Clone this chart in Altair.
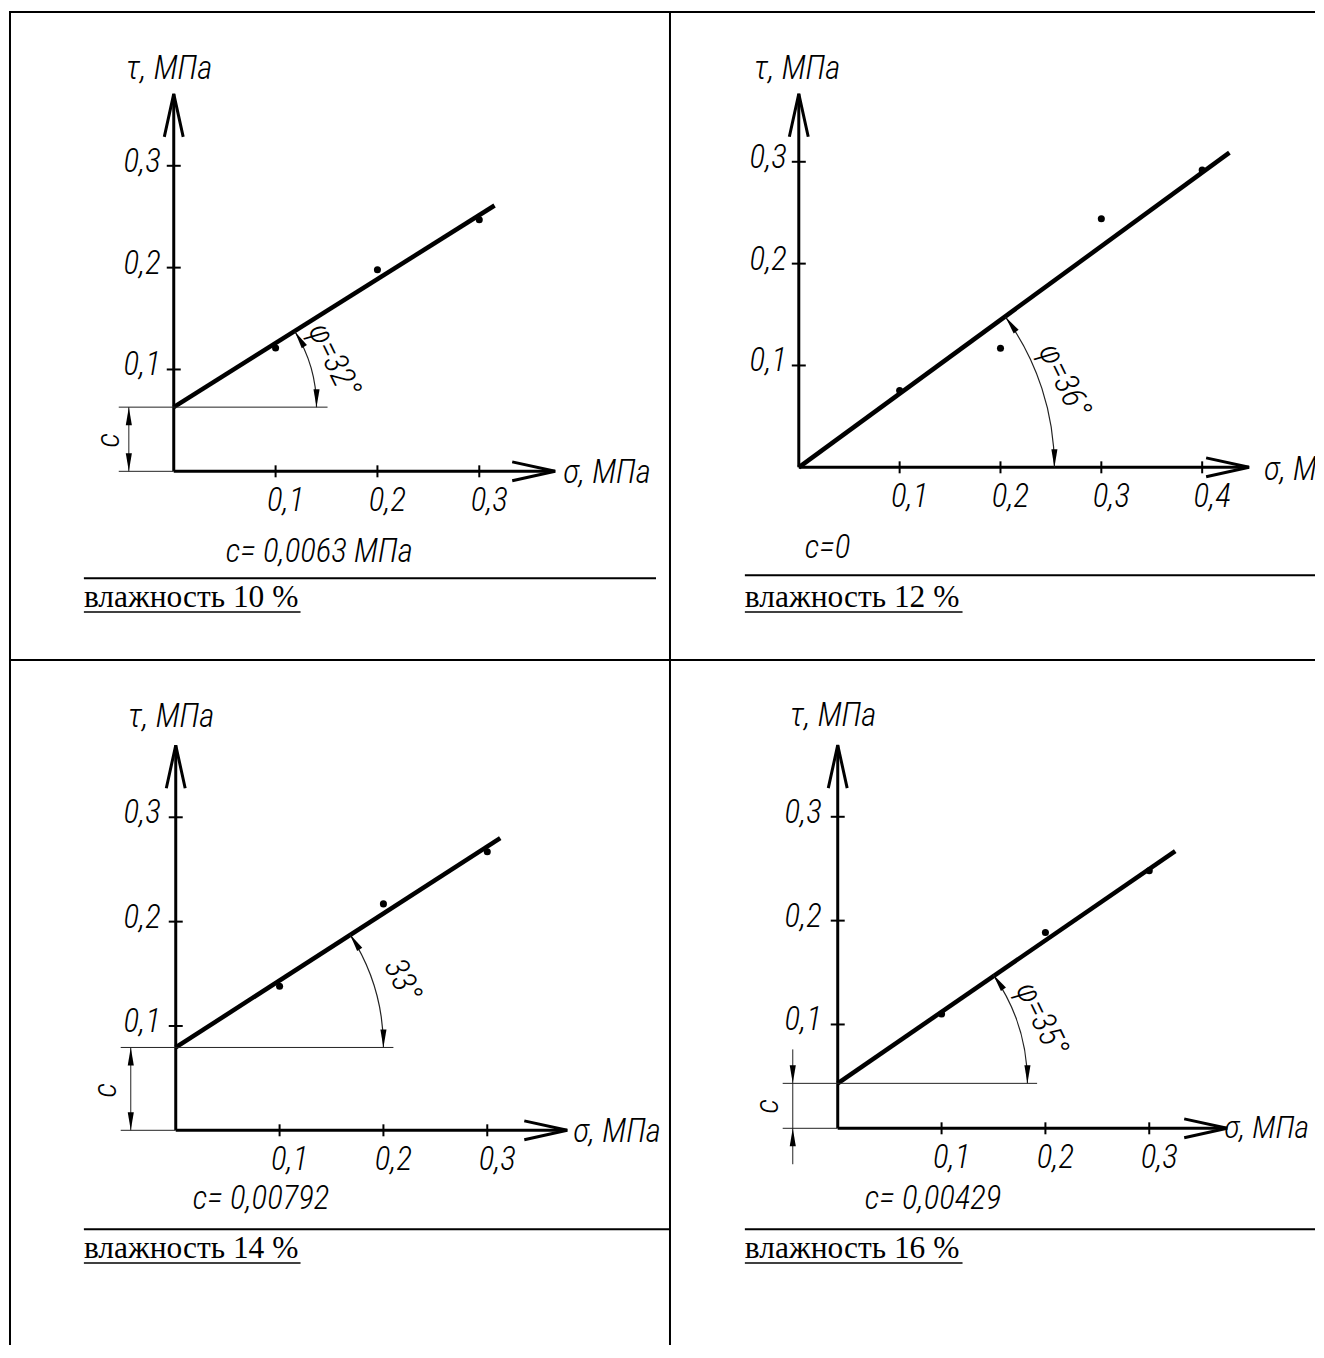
import math
import altair as alt
import pandas as pd

# ---------------- values ----------------
captions = ["влажность 10 %", "влажность 12 %", "влажность 14 %", "влажность 16 %"]
c_texts = ["c= 0,0063 МПа", "c=0", "c= 0,00792", "c= 0,00429"]
phi_texts = ["φ=32°", "φ=36°", "33°", "φ=35°"]
phi_deg = [32, 36, 33, 35]
y_title = "τ, МПа"
x_title = "σ, МПа"
c_letter = "c"

sigma_points = [[0.1, 0.2, 0.3], [0.1, 0.2, 0.3, 0.4], [0.1, 0.2, 0.3], [0.1, 0.2, 0.3]]
tau_points = [[0.121, 0.198, 0.247], [0.0755, 0.117, 0.244, 0.292],
              [0.138, 0.217, 0.267], [0.110, 0.1885, 0.248]]

# fitted straight line: from sigma = 0 (tau = c) to its end point
line_tau0 = [0.063, 0.0, 0.0794, 0.0433]
line_sigma1 = [0.315, 0.427, 0.3125, 0.325]
line_tau1 = [0.261, 0.309, 0.280, 0.267]

x_tick_values = [[0.1, 0.2, 0.3], [0.1, 0.2, 0.3, 0.4], [0.1, 0.2, 0.3], [0.1, 0.2, 0.3]]
x_tick_labels = [["0,1", "0,2", "0,3"], ["0,1", "0,2", "0,3", "0,4"],
                 ["0,1", "0,2", "0,3"], ["0,1", "0,2", "0,3"]]
y_tick_values = [0.1, 0.2, 0.3]
y_tick_labels = ["0,1", "0,2", "0,3"]

x_axis_end = [0.3745, 0.4465, 0.377, 0.375]
y_axis_end = [0.3706, 0.3667, 0.369, 0.369]

phi_label_sigma = [0.157, 0.263, 0.218, 0.196]
phi_label_tau = [0.109, 0.085, 0.1435, 0.105]
c_text_sigma = [0.051, 0.006, 0.0163, 0.026]
c_text_tau = [-0.0794, -0.0794, -0.066, -0.0683]

ext_start = [-0.054, None, -0.053, -0.053]
ext_end = [0.151, None, 0.2096, 0.192]
dim_sigma = [-0.0441, None, -0.0433, -0.0433]
dim_lo = [0.0, None, 0.0, -0.0346]
dim_hi = [0.063, None, 0.0794, 0.076]
c_label_sigma = [-0.0637, None, -0.0673, -0.0673]
c_label_tau = [0.0304, None, 0.0383, 0.0212]

# ---------------- layout / style ----------------
TECH = "Roboto Condensed, Liberation Sans Narrow, DejaVu Sans Condensed, sans-serif"
SERIF = "Liberation Serif, Times New Roman, serif"
FS = 33
page_x0 = [8, 670, 8, 670]
page_y0 = [8, 8, 660, 660]
W = [662, 646, 662, 646]
H = [652, 652, 686, 686]
origin_px = [(173, 471), (799, 467), (175, 1131), (838, 1129)]
px_per_unit = [(1020, 1020), (1010, 1020), (1040, 1045), (1040, 1040)]
arc_r = [143, 256, 208, 190]
ytitle_off = [(-48, -25), (-45, -25), (-48, -28), (-48, -29)]
xtitle_off = [(8, 2), (15, 3), (6, 2), (-3, 0)]
x_title_size = [33, 33, 33, 32]
ylab_dx = [-13, -12, -15, -16]
OPEN_ARROW = "M-1,-0.22L0,0L-1,0.22"
FILL_ARROW = "M0,0L-1,-0.17L-1,0.17Z"
underline_end = [292, 293, 292, 293]
sep_y = [570, 567, 570, 570]
sep_x2 = [648, 646, 662, 646]


def one(**kw):
    return pd.DataFrame({k: [v] for k, v in kw.items()}) if kw else pd.DataFrame({"d": [0]})


def make_panel(i):
    w, h = W[i], H[i]
    ox, oy = origin_px[i]
    kx, ky = px_per_unit[i]
    xmin = -(ox - page_x0[i]) / kx
    xmax = xmin + w / kx
    ymin = (oy - page_y0[i] - h) / ky
    ymax = ymin + h / ky
    xs = alt.Scale(domain=[xmin, xmax], nice=False, zero=False)
    ys = alt.Scale(domain=[ymin, ymax], nice=False, zero=False)

    def X(f):
        return alt.X(f, type="quantitative", scale=xs, axis=None)

    def Y(f):
        return alt.Y(f, type="quantitative", scale=ys, axis=None)

    def txt(**kw):
        base = dict(font=TECH, fontStyle="italic", fontWeight=300, fontSize=FS,
                    color="black", clip=True)
        base.update(kw)
        return base

    layers = []
    # axes
    axes_df = pd.DataFrame({"s0": [0, 0], "t0": [0, 0],
                            "s1": [x_axis_end[i], 0], "t1": [0, y_axis_end[i]]})
    layers.append(alt.Chart(axes_df).mark_rule(strokeWidth=3, color="black")
                  .encode(x=X("s0"), y=Y("t0"), x2="s1", y2="t1"))
    layers.append(alt.Chart(one(s=x_axis_end[i], t=0)).mark_point(
        shape=OPEN_ARROW, filled=False, size=7396, strokeWidth=3, color="black",
        opacity=1, angle=0).encode(x=X("s"), y=Y("t")))
    layers.append(alt.Chart(one(s=0, t=y_axis_end[i])).mark_point(
        shape=OPEN_ARROW, filled=False, size=7396, strokeWidth=3, color="black",
        opacity=1, angle=270).encode(x=X("s"), y=Y("t")))
    # ticks and labels
    xt = pd.DataFrame({"s": x_tick_values[i], "t": [0] * len(x_tick_values[i]),
                       "lab": x_tick_labels[i]})
    layers.append(alt.Chart(xt).mark_tick(orient="vertical", size=12, thickness=2,
                                          color="black", opacity=1)
                  .encode(x=X("s"), y=Y("t")))
    layers.append(alt.Chart(xt).mark_text(**txt(dx=10, dy=30))
                  .encode(x=X("s"), y=Y("t"), text="lab:N"))
    yt = pd.DataFrame({"s": [0] * 3, "t": y_tick_values, "lab": y_tick_labels})
    layers.append(alt.Chart(yt).mark_tick(orient="horizontal", size=14, thickness=2,
                                          color="black", opacity=1)
                  .encode(x=X("s"), y=Y("t")))
    layers.append(alt.Chart(yt).mark_text(**txt(align="right", dx=ylab_dx[i], dy=-4))
                  .encode(x=X("s"), y=Y("t"), text="lab:N"))
    # axis titles
    layers.append(alt.Chart(one(s=0, t=y_axis_end[i], lab=y_title)).mark_text(
        **txt(align="left", dx=ytitle_off[i][0], dy=ytitle_off[i][1]))
        .encode(x=X("s"), y=Y("t"), text="lab:N"))
    layers.append(alt.Chart(one(s=x_axis_end[i], t=0, lab=x_title)).mark_text(
        **txt(align="left", dx=xtitle_off[i][0], dy=xtitle_off[i][1],
              fontSize=x_title_size[i]))
        .encode(x=X("s"), y=Y("t"), text="lab:N"))
    # fitted line and points
    layers.append(alt.Chart(one(s0=0, t0=line_tau0[i], s1=line_sigma1[i], t1=line_tau1[i]))
                  .mark_rule(strokeWidth=4.5, color="black")
                  .encode(x=X("s0"), y=Y("t0"), x2="s1", y2="t1"))
    pts = pd.DataFrame({"s": sigma_points[i], "t": tau_points[i]})
    layers.append(alt.Chart(pts).mark_circle(size=50, color="black", opacity=1)
                  .encode(x=X("s"), y=Y("t")))
    # angle arc with arrowheads
    phi = phi_deg[i]
    r = arc_r[i]
    center = one(s=0, t=line_tau0[i])
    layers.append(alt.Chart(center).mark_arc(
        theta=math.radians(90 - phi), theta2=math.pi / 2, radius=r + 0.6,
        radius2=r - 0.6, color="#222").encode(x=X("s"), y=Y("t")))
    layers.append(alt.Chart(center).mark_point(
        shape=FILL_ARROW, filled=True, size=1296, color="black", opacity=1,
        angle=270 - phi, xOffset=r * math.cos(math.radians(phi)),
        yOffset=-r * math.sin(math.radians(phi))).encode(x=X("s"), y=Y("t")))
    layers.append(alt.Chart(center).mark_point(
        shape=FILL_ARROW, filled=True, size=1296, color="black", opacity=1,
        angle=90, xOffset=r, yOffset=0).encode(x=X("s"), y=Y("t")))
    layers.append(alt.Chart(one(s=phi_label_sigma[i], t=phi_label_tau[i], lab=phi_texts[i]))
                  .mark_text(**txt(angle=64))
                  .encode(x=X("s"), y=Y("t"), text="lab:N"))
    # cohesion text
    layers.append(alt.Chart(one(s=c_text_sigma[i], t=c_text_tau[i], lab=c_texts[i]))
                  .mark_text(**txt(align="left"))
                  .encode(x=X("s"), y=Y("t"), text="lab:N"))
    # cohesion dimension
    if ext_start[i] is not None:
        ext = pd.DataFrame({"s0": [ext_start[i], ext_start[i]], "t0": [line_tau0[i], 0],
                            "s1": [ext_end[i], 0], "t1": [line_tau0[i], 0]})
        layers.append(alt.Chart(ext).mark_rule(strokeWidth=1, color="#222")
                      .encode(x=X("s0"), y=Y("t0"), x2="s1", y2="t1"))
        layers.append(alt.Chart(one(s0=dim_sigma[i], t0=dim_lo[i], t1=dim_hi[i]))
                      .mark_rule(strokeWidth=1, color="#222")
                      .encode(x=X("s0"), y=Y("t0"), y2="t1"))
        inward = dim_lo[i] < 0
        arr = pd.DataFrame({"s": [dim_sigma[i], dim_sigma[i]], "t": [line_tau0[i], 0]})
        layers.append(alt.Chart(arr.iloc[[0]]).mark_point(
            shape=FILL_ARROW, filled=True, size=1296, color="black", opacity=1,
            angle=90 if inward else 270).encode(x=X("s"), y=Y("t")))
        layers.append(alt.Chart(arr.iloc[[1]]).mark_point(
            shape=FILL_ARROW, filled=True, size=1296, color="black", opacity=1,
            angle=270 if inward else 90).encode(x=X("s"), y=Y("t")))
        layers.append(alt.Chart(one(s=c_label_sigma[i], t=c_label_tau[i], lab=c_letter))
                      .mark_text(**txt(angle=270))
                      .encode(x=X("s"), y=Y("t"), text="lab:N"))

    # ---- table decorations (panel-local pixels) ----
    def hrule(x1, x2, y, sw=2):
        return alt.Chart(one()).mark_rule(strokeWidth=sw, color="black").encode(
            x=alt.value(x1), x2=alt.value(x2), y=alt.value(y))

    def vrule(x, y1, y2, sw=2):
        return alt.Chart(one()).mark_rule(strokeWidth=sw, color="black").encode(
            x=alt.value(x), y=alt.value(y1), y2=alt.value(y2))

    if i < 2:
        layers.append(hrule(0, w, 3))
        layers.append(hrule(0, w, h))
    if i in (0, 2):
        layers.append(vrule(1, 3 if i == 0 else 0, h))
        layers.append(vrule(w, 3 if i == 0 else 0, h))
    layers.append(hrule(75, sep_x2[i], sep_y[i]))
    layers.append(alt.Chart(one(lab=captions[i])).mark_text(
        font=SERIF, fontSize=31.5, align="left", baseline="alphabetic", color="black")
        .encode(x=alt.value(75), y=alt.value(599), text="lab:N"))
    layers.append(hrule(75, underline_end[i], 604, sw=1.5))

    return alt.layer(*layers).properties(width=w, height=h)


panels = [make_panel(i) for i in range(4)]
chart = (alt.concat(*panels, columns=2, spacing=0, bounds="flush")
         .resolve_scale(x="independent", y="independent")
         .properties(padding=0)
         .configure_view(stroke=None))

chart.save("out.html", embed_options={"renderer": "svg", "actions": False})
